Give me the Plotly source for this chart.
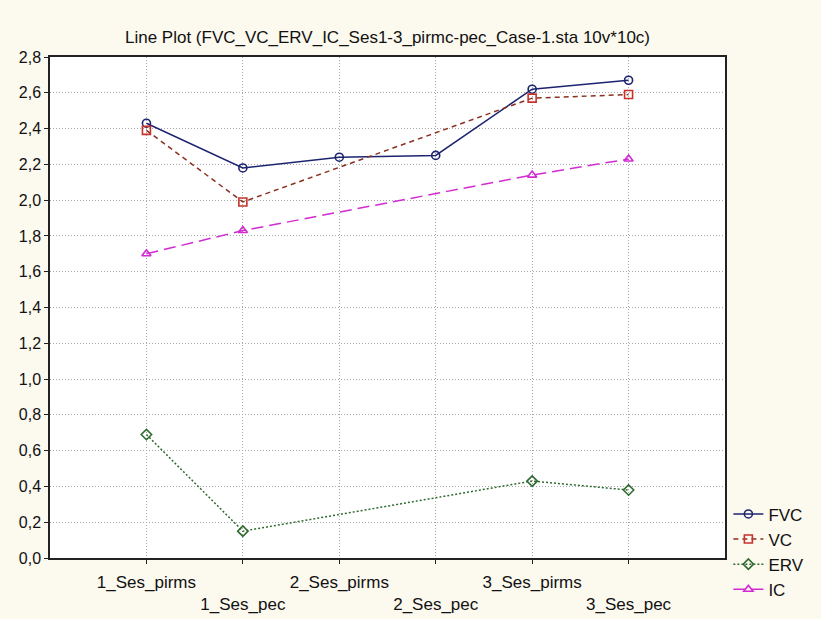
import plotly.graph_objects as go

categories = ["1_Ses_pirms", "1_Ses_pec", "2_Ses_pirms", "2_Ses_pec", "3_Ses_pirms", "3_Ses_pec"]
fvc = [2.43, 2.18, 2.24, 2.25, 2.62, 2.67]
vc = [2.39, 1.99, None, None, 2.57, 2.59]
erv = [0.69, 0.15, None, None, 0.43, 0.38]
ic = [1.70, 1.83, None, None, 2.14, 2.23]
y_ticks = [0.0, 0.2, 0.4, 0.6, 0.8, 1.0, 1.2, 1.4, 1.6, 1.8, 2.0, 2.2, 2.4, 2.6, 2.8]
title_text = "Line Plot (FVC_VC_ERV_IC_Ses1-3_pirmc-pec_Case-1.sta 10v*10c)"

xidx = list(range(len(categories)))
ticktext = [c if i % 2 == 0 else "<br>" + c for i, c in enumerate(categories)]

series = [
    ("FVC", fvc, "#1c2470", "#1c2470", "solid", "circle-open"),
    ("VC", vc, "#8a3020", "#c8302a", "5px,4px", "square-open"),
    ("ERV", erv, "#2f6b2f", "#2f6b2f", "2px,2px", "diamond-open"),
    ("IC", ic, "#d22bd2", "#d22bd2", "12px,6px", "triangle-up-open"),
]

fig = go.Figure()
for name, vals, lc, mc, dash, sym in series:
    fig.add_trace(go.Scatter(
        x=xidx, y=vals, name=name, mode="lines+markers", connectgaps=True,
        line=dict(color=lc, width=1.5, dash=dash),
        marker=dict(symbol=sym, size=8, color=mc, line=dict(width=1.6, color=mc)),
    ))

fig.update_layout(
    width=821, height=619,
    margin=dict(l=50, r=82, t=57, b=56),
    paper_bgcolor="#fcf9ef", plot_bgcolor="#ffffff",
    separators=",.",
    font=dict(family="Liberation Sans, Arial, sans-serif", size=16, color="#111111"),
    title=dict(text=title_text, x=0.5, xref="paper", xanchor="center",
               y=1 - 37 / 619, yref="container", yanchor="middle",
               font=dict(size=17, color="#111111")),
    showlegend=True,
    legend=dict(x=1.005, xanchor="left", y=0.123, yanchor="top",
                bgcolor="rgba(0,0,0,0)", font=dict(size=17), itemwidth=30,
                tracegroupgap=0),
)
fig.update_xaxes(
    range=[-1, len(categories)], tickmode="array", tickvals=xidx, ticktext=ticktext,
    tickfont=dict(size=17), automargin=False, ticklabelstandoff=4,
    showgrid=True, gridcolor="#a8a8a8", griddash="1px,2px", gridwidth=1,
    showline=True, linecolor="#222222", linewidth=1.5, mirror=True,
    ticks="outside", ticklen=4, tickcolor="#222222", zeroline=False,
)
fig.update_yaxes(
    range=[0, 2.8], tickmode="array", tickvals=y_ticks, tickformat=".1f",
    tickfont=dict(size=16), automargin=False,
    showgrid=True, gridcolor="#a8a8a8", griddash="1px,2px", gridwidth=1,
    showline=True, linecolor="#222222", linewidth=1.5, mirror=True,
    ticks="outside", ticklen=4, tickcolor="#222222", zeroline=False,
)
fig.write_html("out.html")
